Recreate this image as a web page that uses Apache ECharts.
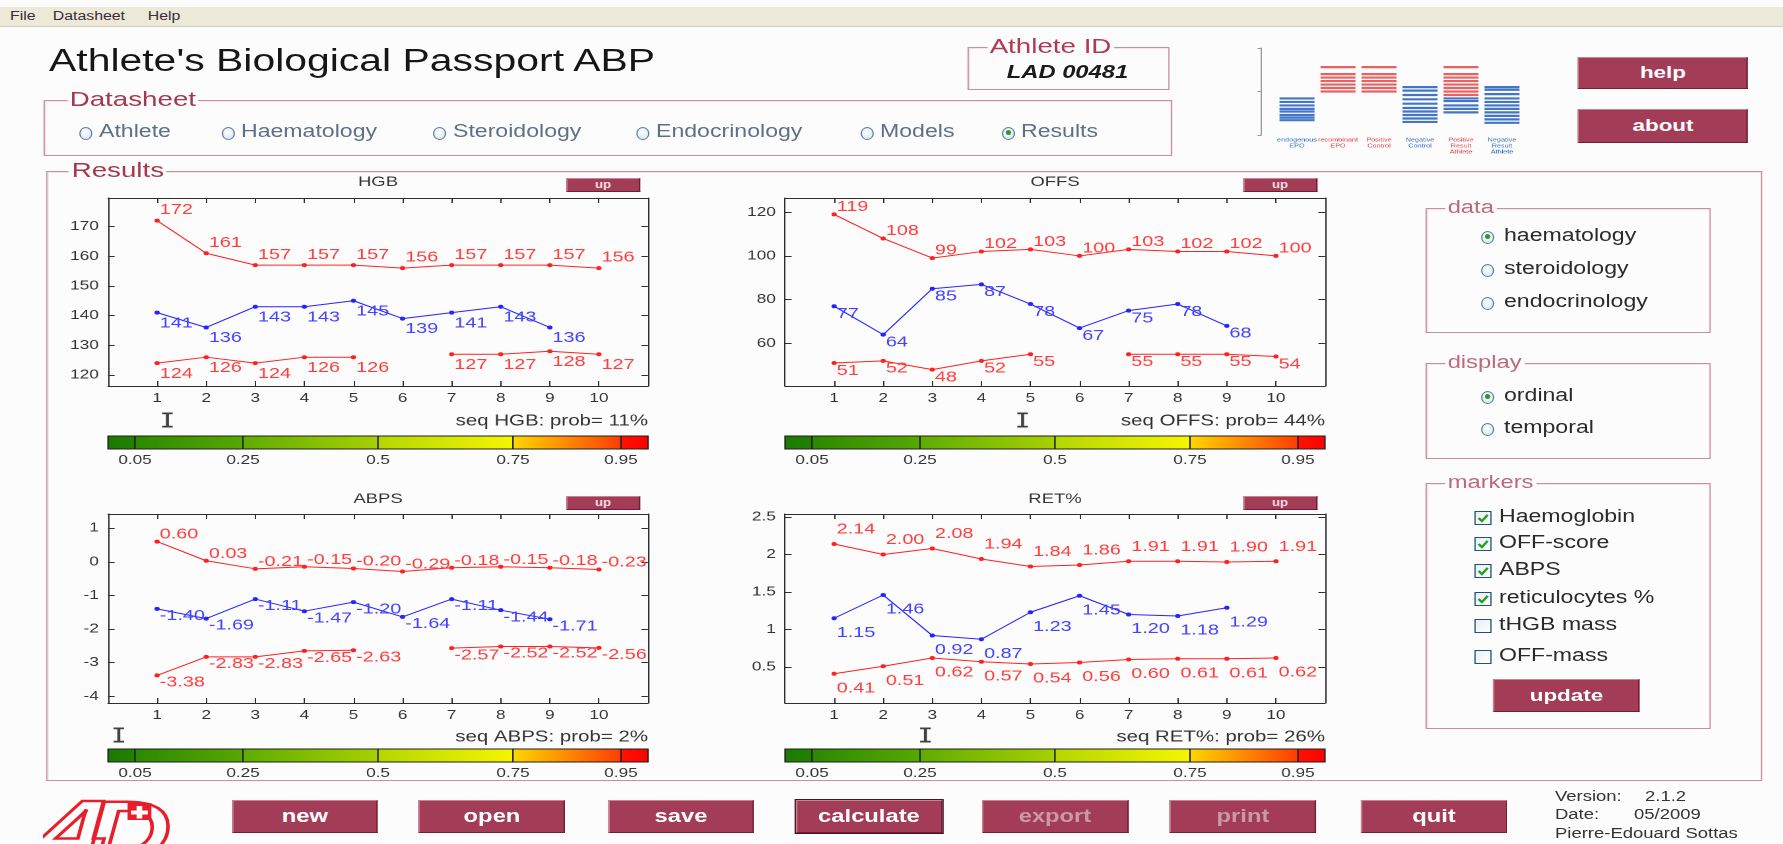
<!DOCTYPE html>
<html>
<head>
<meta charset="utf-8">
<title>Athlete's Biological Passport ABP</title>
<script src="https://cdn.jsdelivr.net/npm/echarts@6.0.0/dist/echarts.min.js"></script>
<style>
html,body{margin:0;padding:0;width:1783px;height:844px;overflow:hidden;background:#fdfcfc;}
#wrap{position:absolute;left:0;top:0;width:1351px;height:844px;transform:scaleX(1.32);transform-origin:0 0;font-family:"Liberation Sans",Arial,sans-serif;}
#chart{position:absolute;left:0;top:0;width:1351px;height:844px;z-index:1;}
.ui{position:absolute;z-index:2;white-space:nowrap;}
.menubar{position:absolute;left:0;top:7px;width:1351px;height:19px;background:#ece9d8;border-bottom:1px solid #d4cfbd;z-index:0;}
.menu{position:absolute;top:3px;font-size:12px;line-height:12px;color:#3a2a3a;}
.gb{position:absolute;border:1px solid #cf8c9b;box-shadow:inset 1px 1px 0 #f5e4e8;z-index:0;}
.gbl{position:absolute;background:#fdfcfc;padding:0 2px;z-index:0;white-space:nowrap;}
.btn{position:absolute;z-index:2;background:#a33c57;color:#fff;font-weight:bold;text-align:center;box-sizing:border-box;border:1px solid #6e2034;border-top-color:#c98194;border-left-color:#c98194;white-space:nowrap;}
.btn.dis{color:#c89aa6;}
.btn.foc{outline:1px solid #4a1322;}
.rd{position:absolute;z-index:2;box-sizing:border-box;border:1px solid #5a80aa;border-radius:50%;background:radial-gradient(circle at 40% 40%,#ffffff,#d6dfea);}
.dot{position:absolute;border-radius:50%;background:#2b9b2b;}
.cb{position:absolute;z-index:2;box-sizing:border-box;border:1px solid #21507f;background:linear-gradient(135deg,#e9eef3,#ffffff);}
</style>
</head>
<body>
<div id="wrap">
  <div class="menubar">
    <div class="menu" style="left:7.6px">File</div>
    <div class="menu" style="left:40px">Datasheet</div>
    <div class="menu" style="left:112px">Help</div>
  </div>
  <div id="chart"></div>
</div>
<script>
// ================= DATA =================
const visits = [1, 2, 3, 4, 5, 6, 7, 8, 9, 10];

const hgbUpper = [172, 161, 157, 157, 157, 156, 157, 157, 157, 156];
const hgbObs   = [141, 136, 143, 143, 145, 139, 141, 143, 136];
const hgbLower = [124, 126, 124, 126, 126, null, 127, 127, 128, 127];
const hgbTicks = [120, 130, 140, 150, 160, 170];
const hgbRange = [116.3, 179.6];
const hgbProb  = 0.11;

const offsUpper = [119, 108, 99, 102, 103, 100, 103, 102, 102, 100];
const offsObs   = [77, 64, 85, 87, 78, 67, 75, 78, 68];
const offsLower = [51, 52, 48, 52, 55, null, 55, 55, 55, 54];
const offsTicks = [60, 80, 100, 120];
const offsRange = [40.5, 126.5];
const offsProb  = 0.44;

const abpsUpper = [0.60, 0.03, -0.21, -0.15, -0.20, -0.29, -0.18, -0.15, -0.18, -0.23];
const abpsObs   = [-1.40, -1.69, -1.11, -1.47, -1.20, -1.64, -1.11, -1.44, -1.71];
const abpsLower = [-3.38, -2.83, -2.83, -2.65, -2.63, null, -2.57, -2.52, -2.52, -2.56];
const abpsTicks = [-4, -3, -2, -1, 0, 1];
const abpsRange = [-4.2, 1.42];
const abpsProb  = 0.02;

const retUpper = [2.14, 2.00, 2.08, 1.94, 1.84, 1.86, 1.91, 1.91, 1.90, 1.91];
const retObs   = [1.15, 1.46, 0.92, 0.87, 1.23, 1.45, 1.20, 1.18, 1.29];
const retLower = [0.41, 0.51, 0.62, 0.57, 0.54, 0.56, 0.60, 0.61, 0.61, 0.62];
const retTicks = [0.5, 1, 1.5, 2, 2.5];
const retRange = [0.02, 2.54];
const retProb  = 0.26;

const probBreaks = [0, 0.05, 0.25, 0.5, 0.75, 0.95, 1];
const probTicks  = [0.05, 0.25, 0.5, 0.75, 0.95];

const bandGroups = ['endogenous\nEPO', 'recombinant\nEPO', 'Positive\nControl', 'Negative\nControl', 'Positive\nResult\nAthlete', 'Negative\nResult\nAthlete'];
const bandRed = [[1,50],[1,54],[1,58],[1,62],[1,66],[1,70],[1,78],[2,50],[2,54],[2,58],[2,62],[2,66],[2,70],[2,78],[4,46],[4,50],[4,54],[4,58],[4,62],[4,66],[4,70],[4,78]];
const bandBlue = [[0,17],[0,20],[0,23],[0,27],[0,30],[0,34],[0,38],[0,42],[3,15],[3,19],[3,23],[3,27],[3,31],[3,36],[3,41],[3,46],[3,51],[3,55],[4,26],[4,30],[4,34],[4,39],[4,42],[5,14],[5,18],[5,22],[5,26],[5,30],[5,34],[5,38],[5,42],[5,47],[5,52],[5,55]];

const panels = [
  {name: 'HGB',  up: hgbUpper,  obs: hgbObs,  low: hgbLower,  ticks: hgbTicks,  range: hgbRange,  prob: hgbProb,  dec: 0},
  {name: 'OFFS', up: offsUpper, obs: offsObs, low: offsLower, ticks: offsTicks, range: offsRange, prob: offsProb, dec: 0},
  {name: 'ABPS', up: abpsUpper, obs: abpsObs, low: abpsLower, ticks: abpsTicks, range: abpsRange, prob: abpsProb, dec: 2},
  {name: 'RET%', up: retUpper,  obs: retObs,  low: retLower,  ticks: retTicks,  range: retRange,  prob: retProb,  dec: 2}
];

// ================= LAYOUT / STYLE (screen px) =================
const S = 1.32;                 // horizontal stretch of the original screen
const nx = v => v / S;
const plotW = 540;
const layout = [
  {l: 108, t: 198, h: 188, lab: 10.5, cb: 436, mk: 16, seqY: 421, titleY: 182, upY: 178},
  {l: 785, t: 198, h: 188, lab: 7.7,  cb: 436, mk: 16, seqY: 421, titleY: 182, upY: 178},
  {l: 108, t: 514, h: 189, lab: 7,    cb: 749, mk: 14, seqY: 737, titleY: 499, upY: 496},
  {l: 785, t: 514, h: 189, lab: 14.5, cb: 749, mk: 14, seqY: 737, titleY: 499, upY: 496}
];
const RED = '#ff2020', RED_L = '#ff3d3d', BLUE = '#2424ff', BLUE_L = '#4242ff';
const AX = '#2e2e2e', TXT = '#333333';
const FONT = '"Liberation Sans", Arial, sans-serif';
const cbColors = [['#1c7a00', '#248200'], ['#2c8900', '#58a800'], ['#5fac00', '#a8d100'], ['#b4d700', '#f6f600'], ['#ffd800', '#ff3c00'], ['#ff1400', '#ff0000']];
const bandCatColors = ['#2e66c0', '#e23b3b', '#e23b3b', '#2e66c0', '#e23b3b', '#2e66c0'];

// ================= HTML UI =================
const wrap = document.getElementById('wrap');
function put(html) { wrap.insertAdjacentHTML('beforeend', html); }
function txt(x, cy, text, fs, color, extra) {
  put(`<div class="ui" style="left:${nx(x)}px;top:${cy - 0.55 * fs}px;font-size:${fs}px;line-height:${fs}px;color:${color};${extra || ''}">${text}</div>`);
}
function groupBox(x1, y1, x2, y2, label, lx, fs, color) {
  put(`<div class="gb" style="left:${nx(x1)}px;top:${y1}px;width:${nx(x2 - x1)}px;height:${y2 - y1}px"></div>`);
  put(`<div class="gbl" style="left:${nx(lx)}px;top:${y1 - 0.55 * fs}px;font-size:${fs}px;line-height:${fs}px;color:${color}">${label}</div>`);
}
function radio(cx, cy, text, on, color, fs, gap) {
  const w = 13 / S;
  put(`<div class="rd" style="left:${nx(cx) - w / 2}px;top:${cy - 6.5}px;width:${w}px;height:13px">${on ? `<div class="dot" style="left:${w / 2 - 1 - 2.5 / S}px;top:2.5px;width:${5 / S}px;height:5px"></div>` : ''}</div>`);
  txt(cx + gap, cy, text, fs, color);
}
function check(x, cy, text, on) {
  const w = 17 / S;
  const mark = on ? `<svg width="${w - 2}" height="12" viewBox="0 0 10 10" preserveAspectRatio="none" style="position:absolute;left:0;top:0"><polyline points="2,5 4.3,7.6 8.3,2.4" fill="none" stroke="#1fa01f" stroke-width="1.8"/></svg>` : '';
  put(`<div class="cb" style="left:${nx(x)}px;top:${cy - 7}px;width:${w}px;height:14px">${mark}</div>`);
  txt(x + 25, cy, text, 17.5, '#2a2a2a');
}
function button(x1, y1, x2, y2, text, fs, cls) {
  put(`<div class="btn ${cls || ''}" style="left:${nx(x1)}px;top:${y1}px;width:${nx(x2 - x1)}px;height:${y2 - y1}px;line-height:${y2 - y1 - 2}px;font-size:${fs}px">${text}</div>`);
}

// title and athlete id
txt(49, 62, "Athlete's Biological Passport ABP", 31, '#161616');
groupBox(968, 47, 1167, 88, 'Athlete ID', 987, 21, '#b03a56');
put(`<div class="ui" style="left:${nx(968)}px;width:${nx(199)}px;text-align:center;top:${73 - 10}px;font-size:18px;line-height:18px;font-weight:bold;font-style:italic;color:#1a1a1a">LAD 00481</div>`);

// datasheet
groupBox(44, 100, 1169, 154, 'Datasheet', 67, 21, '#a5384f');
[['Athlete', 86], ['Haematology', 228], ['Steroidology', 440], ['Endocrinology', 643], ['Models', 867], ['Results', 1008]]
  .forEach(([t, x], i) => radio(x, 133, t, i === 5, '#5d7088', 17.5, 13));

// help / about
button(1578, 57, 1748, 89, 'help', 17);
button(1578, 109, 1748, 143, 'about', 17);

// results
groupBox(46, 171, 1759, 779, 'Results', 69, 21, '#a5384f');

// right panel
groupBox(1425, 208, 1708, 331, 'data', 1445, 18, '#bb6a7d');
radio(1488, 237, 'haematology', true, '#2a2a2a', 17.5, 16);
radio(1488, 270, 'steroidology', false, '#2a2a2a', 17.5, 16);
radio(1488, 303, 'endocrinology', false, '#2a2a2a', 17.5, 16);
groupBox(1425, 363, 1708, 457, 'display', 1445, 18, '#bb6a7d');
radio(1488, 397, 'ordinal', true, '#2a2a2a', 17.5, 16);
radio(1488, 429, 'temporal', false, '#2a2a2a', 17.5, 16);
groupBox(1425, 483, 1708, 727, 'markers', 1445, 18, '#bb6a7d');
check(1474, 518, 'Haemoglobin', true);
check(1474, 544, 'OFF-score', true);
check(1474, 571, 'ABPS', true);
check(1474, 599, 'reticulocytes %', true);
check(1474, 626, 'tHGB mass', false);
check(1474, 657, 'OFF-mass', false);
button(1493, 679, 1640, 712, 'update', 17);

// "up" buttons
layout.forEach(L => {
  put(`<div class="btn" style="left:${nx(L.l + 458)}px;top:${L.upY}px;width:${nx(74)}px;height:14px;line-height:12px;font-size:10px;color:#f1d9df">up</div>`);
});

// bottom buttons
[['new', 232, ''], ['open', 419, ''], ['save', 608, ''], ['calculate', 796, 'foc'], ['export', 982, 'dis'], ['print', 1170, 'dis'], ['quit', 1361, '']]
  .forEach(([t, x, c]) => button(x, 800, x + 146, 833, t, 18, c));

// version block
txt(1555, 797, 'Version:', 14, '#333');
txt(1645, 797, '2.1.2', 14, '#333');
txt(1555, 815, 'Date:', 14, '#333');
txt(1634, 815, '05/2009', 14, '#333');
txt(1555, 834, 'Pierre-Edouard Sottas', 14, '#333');

// logo
put(`<svg class="ui" style="left:${nx(44)}px;top:783px" width="${nx(140)}" height="64" viewBox="0 0 100 64" preserveAspectRatio="none">
 <text x="-2" y="76" font-family="Liberation Sans" font-weight="bold" font-style="italic" font-size="84" fill="#ffffff" stroke="#e81f2a" stroke-width="2.6" letter-spacing="-14">4D</text>
 <rect x="60" y="20" width="17" height="17" fill="#e81f2a"/>
 <path d="M66.5 23h4v4.5h4v4h-4v4h-4v-4h-4v-4h4z" fill="#ffffff"/>
</svg>`);

// ================= ECHARTS =================
const chart = echarts.init(document.getElementById('chart'), null, {renderer: 'canvas', devicePixelRatio: 2});
const option = {animation: false, textStyle: {fontFamily: FONT}, grid: [], xAxis: [], yAxis: [], series: [], graphic: []};

panels.forEach((p, i) => {
  const L = layout[i];
  // ---- main plot ----
  const g = option.grid.length;
  option.grid.push({left: nx(L.l), top: L.t, width: nx(plotW), height: L.h});
  const xb = option.xAxis.length;
  const tick = {inside: true, length: 5, lineStyle: {color: AX}};
  option.xAxis.push({gridIndex: g, type: 'value', min: 0, max: 11, position: 'bottom',
    axisLine: {show: true, onZero: false, lineStyle: {color: AX}},
    axisTick: Object.assign({show: true, customValues: visits}, tick),
    axisLabel: {customValues: visits, color: TXT, fontSize: 13, margin: 6, fontFamily: FONT},
    splitLine: {show: false}});
  option.xAxis.push({gridIndex: g, type: 'value', min: 0, max: 11, position: 'top',
    axisLine: {show: true, onZero: false, lineStyle: {color: AX}},
    axisTick: Object.assign({show: true, customValues: visits}, tick),
    axisLabel: {show: false}, splitLine: {show: false}});
  const yl = option.yAxis.length;
  option.yAxis.push({gridIndex: g, type: 'value', min: p.range[0], max: p.range[1], position: 'left',
    axisLine: {show: true, onZero: false, lineStyle: {color: AX}},
    axisTick: Object.assign({show: true, customValues: p.ticks}, tick),
    axisLabel: {customValues: p.ticks, color: TXT, fontSize: 13, margin: 7, fontFamily: FONT},
    splitLine: {show: false}});
  option.yAxis.push({gridIndex: g, type: 'value', min: p.range[0], max: p.range[1], position: 'right',
    axisLine: {show: true, onZero: false, lineStyle: {color: AX}},
    axisTick: Object.assign({show: true, customValues: p.ticks}, tick),
    axisLabel: {show: false}, splitLine: {show: false}});

  const mkLine = (vals, color, lcolor, dy) => ({
    type: 'line', xAxisIndex: xb, yAxisIndex: yl,
    data: vals.map((v, k) => [visits[k], v]),
    connectNulls: false, symbol: 'circle', symbolSize: 4, showSymbol: true,
    itemStyle: {color: color}, lineStyle: {color: color, width: 1},
    label: {show: true, position: 'right', distance: 0, offset: [0, dy], color: lcolor, fontSize: 15, fontFamily: FONT,
      formatter: q => (q.value[1] == null ? '' : Number(q.value[1]).toFixed(p.dec))},
    emphasis: {disabled: true}, z: 3
  });
  option.series.push(mkLine(p.up, RED, RED_L, -L.lab));
  option.series.push(mkLine(p.obs, BLUE, BLUE_L, L.lab));
  option.series.push(mkLine(p.low, RED, RED_L, L.lab));

  // titles and probability text
  option.graphic.push({type: 'text', x: nx(L.l + plotW / 2), y: L.titleY, z: 10,
    style: {text: p.name, align: 'center', verticalAlign: 'middle', fontSize: 14, fontFamily: FONT, fill: TXT}});
  option.graphic.push({type: 'text', x: nx(L.l + plotW), y: L.seqY, z: 10,
    style: {text: 'seq ' + p.name + ': prob= ' + Math.round(p.prob * 100) + '%', align: 'right', verticalAlign: 'middle', fontSize: 15.5, fontFamily: FONT, fill: TXT}});

  // ---- colour bar ----
  const cg = option.grid.length;
  option.grid.push({left: nx(L.l), top: L.cb, width: nx(plotW), height: 13});
  const cx = option.xAxis.length;
  option.xAxis.push({gridIndex: cg, type: 'value', min: 0, max: 1, position: 'bottom',
    axisLine: {show: false}, axisTick: {show: false}, splitLine: {show: false},
    axisLabel: {customValues: probTicks, color: TXT, fontSize: 13, margin: 5, fontFamily: FONT}});
  const cy = option.yAxis.length;
  option.yAxis.push({gridIndex: cg, type: 'value', min: 0, max: 1, show: false});
  option.series.push({
    type: 'custom', xAxisIndex: cx, yAxisIndex: cy,
    data: probBreaks.slice(0, -1).map((b, k) => [b, probBreaks[k + 1], k]),
    encode: {x: [0, 1]},
    renderItem: (params, api) => {
      const a = api.coord([api.value(0), 1]);
      const b = api.coord([api.value(1), 0]);
      const c = cbColors[api.value(2)];
      return {type: 'rect', shape: {x: a[0], y: a[1], width: b[0] - a[0], height: b[1] - a[1]},
        style: {fill: new echarts.graphic.LinearGradient(0, 0, 1, 0, [{offset: 0, color: c[0]}, {offset: 1, color: c[1]}]), stroke: '#1e1e1e', lineWidth: 1}};
    },
    silent: true
  });
  option.series.push({
    type: 'scatter', xAxisIndex: cx, yAxisIndex: cy, clip: false,
    data: [[p.prob, 1]],
    symbol: 'path://M0,0 L10,0 L10,2.4 L6.4,2.4 L6.4,17.6 L10,17.6 L10,20 L0,20 L0,17.6 L3.6,17.6 L3.6,2.4 L0,2.4 Z',
    symbolSize: [8, 15], symbolOffset: [0, -L.mk],
    itemStyle: {color: '#111111'}, silent: true
  });
});

// ---- small band picture (top right) ----
const bg = option.grid.length;
option.grid.push({left: nx(1276.5), top: 48, width: nx(246), height: 87});
const bx = option.xAxis.length;
option.xAxis.push({gridIndex: bg, type: 'category', data: bandGroups, boundaryGap: true,
  axisLine: {show: false}, axisTick: {show: false}, splitLine: {show: false},
  axisLabel: {interval: 0, fontSize: 5.5, lineHeight: 6, margin: 2, color: (v, idx) => bandCatColors[idx], fontFamily: FONT}});
const by = option.yAxis.length;
option.yAxis.push({gridIndex: bg, type: 'value', min: 0, max: 100, offset: nx(15),
  axisLine: {show: true, lineStyle: {color: '#9a9a9a'}}, axisTick: {show: true, inside: false, length: 3, customValues: [0, 50, 100], lineStyle: {color: '#9a9a9a'}},
  axisLabel: {show: false}, splitLine: {show: false}});
option.series.push({type: 'scatter', xAxisIndex: bx, yAxisIndex: by, data: bandRed, symbol: 'rect', symbolSize: [nx(35), 2.2], itemStyle: {color: '#e23b3b'}, silent: true});
option.series.push({type: 'scatter', xAxisIndex: bx, yAxisIndex: by, data: bandBlue, symbol: 'rect', symbolSize: [nx(35), 2.2], itemStyle: {color: '#2e66c0', opacity: 0.9}, silent: true});

chart.setOption(option);
</script>
</body>
</html>
